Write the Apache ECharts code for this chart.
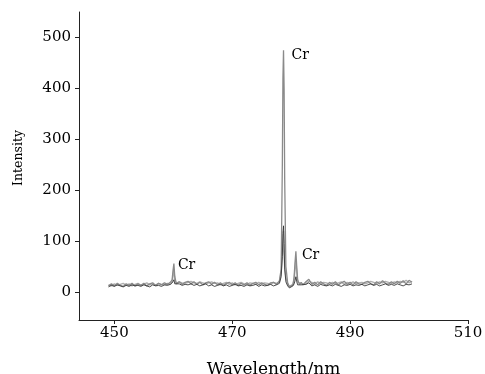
<!DOCTYPE html>
<html>
<head>
<meta charset="utf-8">
<script src="https://cdn.jsdelivr.net/npm/echarts@6/dist/echarts.min.js"></script>
<style>html,body{margin:0;padding:0;background:#fff}#c{width:485px;height:374px}</style>
</head>
<body>
<div id="c"></div>
<script>
// Wavelength samples (nm)
var wl = [
  449.0, 449.5, 450.0, 450.5, 451.0, 451.5, 452.0, 452.5, 453.0, 453.5,
  454.0, 454.5, 455.0, 455.5, 456.0, 456.5, 457.0, 457.5, 458.0, 458.5,
  459.0, 459.5, 459.8, 459.95, 460.1, 460.25, 460.5, 461.0, 461.5, 462.0,
  462.5, 463.0, 463.5, 464.0, 464.5, 465.0, 465.5, 466.0, 466.5, 467.0,
  467.5, 468.0, 468.5, 469.0, 469.5, 470.0, 470.5, 471.0, 471.5, 472.0,
  472.5, 473.0, 473.5, 474.0, 474.5, 475.0, 475.5, 476.0, 476.5, 477.0,
  477.5, 478.0, 478.3, 478.5, 478.6, 478.7, 478.8, 478.9, 479.1, 479.4,
  479.7, 480.0, 480.3, 480.5, 480.65, 480.8, 480.95, 481.1, 481.4, 481.7,
  482.0, 482.5, 483.0, 483.5, 484.0, 484.5, 485.0, 485.5, 486.0, 486.5,
  487.0, 487.5, 488.0, 488.5, 489.0, 489.5, 490.0, 490.5, 491.0, 491.5,
  492.0, 492.5, 493.0, 493.5, 494.0, 494.5, 495.0, 495.5, 496.0, 496.5,
  497.0, 497.5, 498.0, 498.5, 499.0, 499.5, 500.0, 500.5
];
// Intensity, medium grey spectrum
var specA = [
  12, 16, 12, 17, 13, 11, 16, 13, 17, 12,
  16, 13, 17, 12, 16, 18, 13, 17, 14, 18,
  15, 19, 24, 42, 56, 30, 17, 20, 15, 19,
  21, 16, 20, 15, 19, 14, 18, 20, 15, 19,
  14, 18, 13, 17, 19, 14, 18, 13, 17, 14,
  18, 13, 17, 19, 14, 18, 15, 13, 18, 19,
  15, 22, 45, 250, 420, 475, 400, 220, 50, 18,
  10, 9, 14, 30, 58, 80, 48, 24, 15, 19,
  14, 20, 25, 15, 19, 14, 20, 16, 13, 19,
  15, 20, 14, 18, 21, 15, 19, 14, 20, 16,
  15, 19, 21, 16, 14, 20, 16, 22, 17, 15,
  20, 16, 21, 17, 22, 16, 23, 19
];
// Intensity, dark spectrum
var specB = [
  10, 13, 11, 14, 12, 10, 13, 11, 14, 12,
  13, 11, 14, 12, 10, 14, 12, 13, 11, 14,
  13, 15, 16, 20, 24, 16, 14, 16, 13, 15,
  14, 16, 13, 15, 12, 14, 16, 12, 14, 11,
  13, 15, 12, 14, 11, 13, 15, 12, 13, 11,
  14, 12, 13, 15, 11, 14, 12, 13, 15, 12,
  14, 17, 30, 70, 115, 130, 95, 45, 20, 12,
  8, 9, 12, 16, 22, 30, 20, 14, 12, 14,
  13, 15, 18, 12, 14, 11, 15, 13, 12, 14,
  12, 15, 13, 11, 14, 13, 15, 12, 14, 13,
  15, 12, 14, 16, 13, 15, 12, 14, 16, 13,
  15, 13, 16, 14, 12, 15, 14, 16
];
// Intensity, light grey spectrum
var specC = [
  14, 12, 16, 13, 15, 17, 13, 16, 12, 15,
  17, 13, 15, 18, 14, 16, 13, 17, 15, 14,
  17, 15, 20, 32, 45, 25, 16, 20, 18, 17,
  19, 21, 18, 17, 20, 18, 16, 18, 20, 17,
  18, 14, 17, 19, 15, 18, 14, 17, 19, 16,
  15, 18, 17, 15, 19, 16, 18, 17, 15, 19,
  17, 20, 38, 70, 90, 120, 75, 50, 28, 16,
  11, 10, 15, 24, 45, 65, 38, 20, 18, 16,
  18, 16, 21, 19, 15, 20, 16, 19, 18, 15,
  19, 17, 18, 20, 15, 19, 17, 20, 16, 18,
  19, 16, 18, 21, 19, 17, 20, 18, 21, 19,
  17, 20, 18, 21, 19, 23, 18, 21
];
var xTicks = [450, 470, 490, 510];
var yTicks = [0, 100, 200, 300, 400, 500];
var peakLabel = 'Cr';
var peakPts = [[460.1, 56], [478.7, 475], [480.8, 80]];
var peakLabelOffsets = [[-1, 2], [3, 5], [1, 4]];

function pairs(vals) { return wl.map(function (w, i) { return [w, vals[i]]; }); }

var FONT = 'DejaVu Serif';
var chart = echarts.init(document.getElementById('c'), null, { renderer: 'canvas' });
chart.setOption({
  animation: false,
  backgroundColor: '#ffffff',
  grid: { left: 79, right: 17, top: 12, bottom: 54, containLabel: false, outerBoundsMode: 'none' },
  xAxis: {
    type: 'value', min: 444, max: 510,
    name: 'Wavelength/nm', nameLocation: 'middle', nameGap: 41,
    nameTextStyle: { fontFamily: FONT, fontSize: 17, color: '#000' },
    axisLine: { show: true, onZero: false, lineStyle: { color: '#222', width: 1 } },
    axisTick: { show: true, customValues: xTicks, length: 4, lineStyle: { color: '#222' } },
    axisLabel: { customValues: xTicks, fontFamily: FONT, fontSize: 15, color: '#000', margin: 6 },
    splitLine: { show: false }
  },
  yAxis: {
    type: 'value', min: -55, max: 550,
    name: 'Intensity', nameLocation: 'middle', nameGap: 54, nameRotate: 90,
    nameTextStyle: { fontFamily: FONT, fontSize: 12.5, color: '#000', padding: [0, 0, 0, 16] },
    axisLine: { show: true, onZero: false, lineStyle: { color: '#222', width: 1 } },
    axisTick: { show: true, customValues: yTicks, length: 4, lineStyle: { color: '#222' } },
    axisLabel: { customValues: yTicks, fontFamily: FONT, fontSize: 15, color: '#000', margin: 8 },
    splitLine: { show: false }
  },
  series: [
    { type: 'line', data: pairs(specC), showSymbol: false, symbol: 'none',
      lineStyle: { color: '#b0b0b0', width: 1.4 }, z: 2 },
    { type: 'line', data: pairs(specA), showSymbol: false, symbol: 'none',
      lineStyle: { color: '#8a8a8a', width: 1.3 }, z: 3,
      markPoint: {
        symbol: 'circle', symbolSize: 0, silent: true,
        data: peakPts.map(function (p, i) {
          return { coord: p, label: { offset: peakLabelOffsets[i] } };
        }),
        label: { show: true, position: 'right', formatter: peakLabel,
          fontFamily: FONT, fontSize: 14, color: '#000', distance: 5 }
      } },
    { type: 'line', data: pairs(specB), showSymbol: false, symbol: 'none',
      lineStyle: { color: '#2e2e2e', width: 1, opacity: 0.85 }, z: 4 }
  ]
});
</script>
</body>
</html>
